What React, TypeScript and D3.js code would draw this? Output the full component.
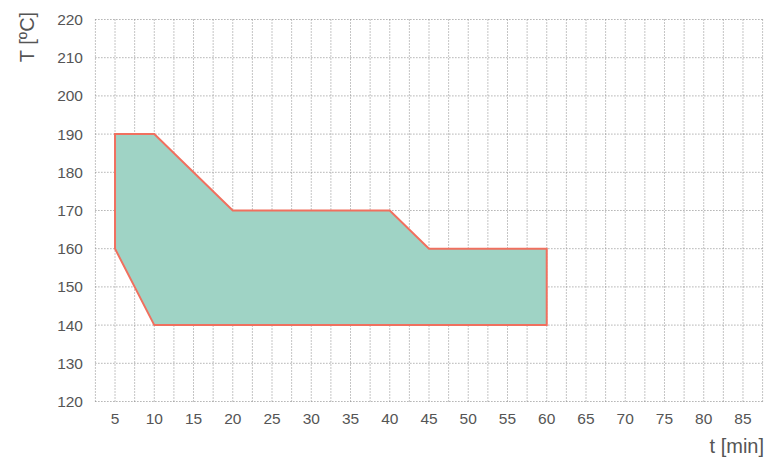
import React from "react";
import * as d3 from "d3";

const polyT = [5, 5, 10, 20, 40, 45, 60, 60, 10];
const polyTemp = [160, 190, 190, 170, 170, 160, 160, 140, 140];
const xTicks = [5, 10, 15, 20, 25, 30, 35, 40, 45, 50, 55, 60, 65, 70, 75, 80, 85];
const yTicks = [120, 130, 140, 150, 160, 170, 180, 190, 200, 210, 220];
const xGrid = d3.range(2.5, 87.51, 2.5);

const W = 780, H = 474;
const font = "'Liberation Sans', Arial, sans-serif";

export default function App() {
  const x = d3.scaleLinear().domain([2.5, 87.5]).range([95.4, 762.6]);
  const y = d3.scaleLinear().domain([120, 220]).range([401.5, 19.5]);
  const pts: [number, number][] = polyT.map((t, i) => [x(t), y(polyTemp[i])]);
  const line = d3.line().curve(d3.curveLinearClosed);
  return (
    <svg width={W} height={H} style={{ position: "absolute", left: 0, top: 0 }}>
      <rect width={W} height={H} fill="#fff" />
      <g stroke="#8a8a8a" strokeWidth={1} strokeDasharray="1,2">
        {xGrid.map((g) => (
          <line key={"x" + g} x1={x(g)} x2={x(g)} y1={y(220)} y2={y(120)} />
        ))}
        {yTicks.map((g) => (
          <line key={"y" + g} x1={x(2.5)} x2={x(87.5)} y1={y(g)} y2={y(g)} />
        ))}
      </g>
      <path d={line(pts) || ""} fill="#9fd3c5" stroke="#f0705f" strokeWidth={2} strokeLinejoin="miter" />
      <g fill="#555" fontFamily={font} fontSize={15.5}>
        {yTicks.map((v) => (
          <text key={v} x={83} y={y(v)} dy="0.35em" textAnchor="end">{v}</text>
        ))}
        {xTicks.map((v) => (
          <text key={v} x={x(v)} y={419} dy="0.35em" textAnchor="middle">{v}</text>
        ))}
      </g>
      <text x={764} y={453} textAnchor="end" fontFamily={font} fontSize={20} fill="#555">t [min]</text>
      <text transform="translate(34,37) rotate(-90)" textAnchor="middle" fontFamily={font} fontSize={20} fill="#555">T [ºC]</text>
    </svg>
  );
}
